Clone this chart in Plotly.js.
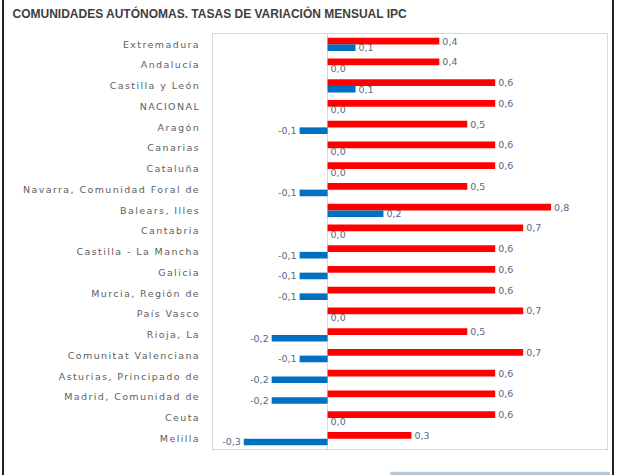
<!DOCTYPE html>
<html>
<head>
<meta charset="utf-8">
<script src="https://cdn.plot.ly/plotly-3.0.1.min.js"></script>
<style>
html,body{margin:0;padding:0;background:#fff;}
#frame{position:absolute;left:2px;top:-2px;width:608px;height:480px;border-left:2px solid #222;border-right:2px solid #222;}
#chart{position:absolute;left:0;top:0;width:624px;height:475px;}
#chart .ytick text{letter-spacing:1.4px;}
</style>
</head>
<body>
<div id="frame"></div>
<div id="chart"></div>
<script>
const categories = ["Extremadura","Andalucía","Castilla y León","NACIONAL","Aragón","Canarias","Cataluña","Navarra, Comunidad Foral de","Balears, Illes","Cantabria","Castilla - La Mancha","Galicia","Murcia, Región de","País Vasco","Rioja, La","Comunitat Valenciana","Asturias, Principado de","Madrid, Comunidad de","Ceuta","Melilla"];
const seriesRed = [0.4,0.4,0.6,0.6,0.5,0.6,0.6,0.5,0.8,0.7,0.6,0.6,0.6,0.7,0.5,0.7,0.6,0.6,0.6,0.3];
const seriesBlue = [0.1,0.0,0.1,0.0,-0.1,0.0,0.0,-0.1,0.2,0.0,-0.1,-0.1,-0.1,0.0,-0.2,-0.1,-0.2,-0.2,0.0,-0.3];

const labelFont = {family:"DejaVu Sans, sans-serif", size:9.5, color:"#5a6685"};
const traces = [
  {type:"bar", orientation:"h", y:categories, x:seriesRed, marker:{color:"#ff0000"},
   texttemplate:"%{x:.1f}", textposition:"outside", constraintext:"none", textfont:labelFont, cliponaxis:false, hoverinfo:"none"},
  {type:"bar", orientation:"h", y:categories, x:seriesBlue, marker:{color:"#0070c0"},
   texttemplate:"%{x:.1f}", textposition:"outside", constraintext:"none", textfont:labelFont, cliponaxis:false, hoverinfo:"none"}
];
const layout = {
  width:624, height:475,
  margin:{l:213, r:17, t:34, b:26},
  paper_bgcolor:"rgba(0,0,0,0)", plot_bgcolor:"#fff",
  separators:",.",
  showlegend:false,
  barmode:"group", bargap:0.36, bargroupgap:0,
  title:{text:"<b>COMUNIDADES AUTÓNOMAS. TASAS DE VARIACIÓN MENSUAL IPC</b>", x:0.02, xanchor:"left", y:0.972, yanchor:"middle",
         font:{family:"Liberation Sans, Arial, sans-serif", size:12, color:"#404040"}},
  xaxis:{range:[-0.41,1.0], showticklabels:false, ticks:"", showgrid:false,
         zeroline:true, zerolinecolor:"#d9d9d9", zerolinewidth:1,
         showline:true, mirror:true, linecolor:"#d9d9d9", linewidth:1, fixedrange:true},
  yaxis:{autorange:"reversed", type:"category", showgrid:false, ticks:"", ticklabelstandoff:10,
         tickfont:{family:"DejaVu Sans, sans-serif", size:9.5, color:"#606060"},
         showline:true, mirror:true, linecolor:"#d9d9d9", linewidth:1, fixedrange:true},
  shapes:[{type:"rect", xref:"paper", yref:"paper", x0:0.45, x1:1.0076, y0:-0.0627, y1:-0.055,
           fillcolor:"#b8c7d9", line:{width:0}}]
};
Plotly.newPlot("chart", traces, layout, {displayModeBar:false, staticPlot:true});
</script>
</body>
</html>
